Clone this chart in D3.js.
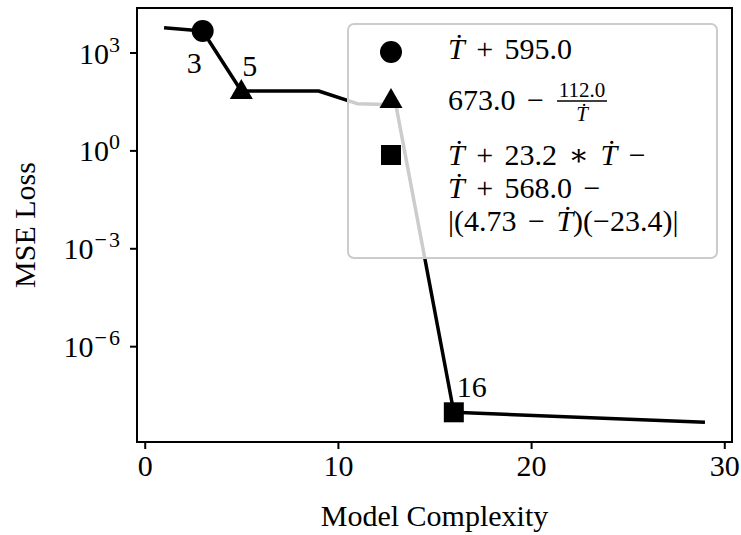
<!DOCTYPE html>
<html>
<head>
<meta charset="utf-8">
<script src="https://cdn.jsdelivr.net/npm/d3@7"></script>
<style>
  body { margin: 0; background: #fff; }
  text { font-family: "Liberation Serif", "DejaVu Serif", serif; fill: #000; }
</style>
</head>
<body>
<div id="chart"></div>
<script>
// pareto front: complexity vs loss
const complexity = [1, 3, 5, 9, 11, 13, 16, 29];
const loss = [5750, 4550, 66, 66, 27, 25, 9.4e-9, 4.65e-9];

// highlighted equations
const markedComplexity = [3, 5, 16];
const markedShapes = ["circle", "triangle", "square"];
const xTicks = [0, 10, 20, 30];
const yTickExponents = [3, 0, -3, -6];

const W = 741, H = 535;
const margin = {top: 8, right: 9, bottom: 93, left: 137};
const width = W - margin.left - margin.right;
const height = H - margin.top - margin.bottom;

const svg = d3.select("#chart").append("svg")
  .attr("width", W)
  .attr("height", H);

const g = svg.append("g")
  .attr("transform", "translate(" + margin.left + "," + margin.top + ")");

// 5% padding like matplotlib
const xExt = d3.extent(complexity);
const xPad = (xExt[1] - xExt[0]) * 0.05;
const x = d3.scaleLinear()
  .domain([xExt[0] - xPad, xExt[1] + xPad])
  .range([0, width]);

const lExt = d3.extent(loss).map(Math.log10);
const lPad = (lExt[1] - lExt[0]) * 0.05;
const y = d3.scaleLog()
  .domain([Math.pow(10, lExt[0] - lPad), Math.pow(10, lExt[1] + lPad)])
  .range([height, 0]);

// axes
const xAxis = g.append("g")
  .attr("transform", "translate(0," + height + ")")
  .call(d3.axisBottom(x).tickValues(xTicks).tickSize(7).tickPadding(6).tickFormat(d3.format("d")));
xAxis.select(".domain").remove();
xAxis.selectAll(".tick line").attr("stroke-width", 2);
xAxis.selectAll(".tick text").attr("font-size", 30).style("font-family", "Liberation Serif");

const yAxis = g.append("g")
  .call(d3.axisLeft(y).tickValues(yTickExponents.map(e => Math.pow(10, e))).tickSize(7).tickPadding(10).tickFormat(""));
yAxis.select(".domain").remove();
yAxis.selectAll(".tick line").attr("stroke-width", 2);
yAxis.selectAll(".tick text").each(function(d) {
  const t = d3.select(this)
    .attr("font-size", 30)
    .attr("dy", "0.35em")
    .style("font-family", "Liberation Serif");
  const e = Math.round(Math.log10(d));
  t.append("tspan").text("10");
  if (e < 0) {
    t.append("tspan").attr("font-size", 22).attr("dy", -12).attr("dx", 1).text("\u2212");
    t.append("tspan").attr("font-size", 22).attr("dx", 2).text(String(-e));
  } else {
    t.append("tspan").attr("font-size", 22).attr("dy", -12).text(String(e));
  }
});

// frame
g.append("rect")
  .attr("width", width)
  .attr("height", height)
  .attr("fill", "none")
  .attr("stroke", "#000")
  .attr("stroke-width", 2);

// the line
const pts = complexity.map((c, i) => [c, loss[i]]);
g.append("path")
  .datum(pts)
  .attr("fill", "none")
  .attr("stroke", "#000")
  .attr("stroke-width", 3.5)
  .attr("stroke-linejoin", "round")
  .attr("d", d3.line().x(d => x(d[0])).y(d => y(d[1])));

function markerPath(shape) {
  if (shape === "circle") return d3.symbol(d3.symbolCircle, 380)();
  if (shape === "triangle") return "M0,-12L11.5,8L-11.5,8Z";
  return "M-10,-10H10V10H-10Z";
}

markedComplexity.forEach((c, i) => {
  const v = loss[complexity.indexOf(c)];
  g.append("path")
    .attr("d", markerPath(markedShapes[i]))
    .attr("transform", "translate(" + x(c) + "," + y(v) + ")")
    .attr("fill", "#000");
});

// point labels
const labelOffsets = [[-16, 42], [1, -15], [3, -15]];
markedComplexity.forEach((c, i) => {
  const v = loss[complexity.indexOf(c)];
  g.append("text")
    .attr("x", x(c) + labelOffsets[i][0])
    .attr("y", y(v) + labelOffsets[i][1])
    .attr("font-size", 30)
    .text(String(c));
});

// legend
const lg = svg.append("g").attr("transform", "translate(348,24)");
lg.append("rect")
  .attr("width", 369)
  .attr("height", 234)
  .attr("rx", 6)
  .attr("fill", "#fff")
  .attr("fill-opacity", 0.8)
  .attr("stroke", "#ccc")
  .attr("stroke-width", 2);

const legendY = [28, 76, 131];
markedShapes.forEach((s, i) => {
  lg.append("path")
    .attr("d", markerPath(s))
    .attr("transform", "translate(43," + legendY[i] + ")")
    .attr("fill", "#000");
});

const T = "\u1E6A";
function mathText(sel, parts) {
  sel.attr("word-spacing", 4);
  parts.forEach(p => {
    const ts = sel.append("tspan").text(p[0]);
    if (p[1]) ts.attr("font-style", "italic");
  });
}

const t1 = lg.append("text").attr("x", 100).attr("y", 35).attr("font-size", 30);
mathText(t1, [[T, true], [" + 595.0"]]);

const t2 = lg.append("text").attr("x", 100).attr("y", 86).attr("font-size", 30);
mathText(t2, [["673.0 \u2212"]]);
lg.append("text").attr("x", 234).attr("y", 73).attr("font-size", 21)
  .attr("text-anchor", "middle").text("112.0");
lg.append("line").attr("x1", 209).attr("x2", 259).attr("y1", 77).attr("y2", 77)
  .attr("stroke", "#000").attr("stroke-width", 1.5);
lg.append("text").attr("x", 234).attr("y", 97).attr("font-size", 21)
  .attr("text-anchor", "middle").attr("font-style", "italic").text(T);

const t3 = lg.append("text").attr("x", 100).attr("y", 141).attr("font-size", 30);
mathText(t3, [[T, true], [" + 23.2 \u2217 "], [T, true], [" \u2212"]]);
const t4 = lg.append("text").attr("x", 100).attr("y", 174).attr("font-size", 30);
mathText(t4, [[T, true], [" + 568.0 \u2212"]]);
const t5 = lg.append("text").attr("x", 100).attr("y", 207).attr("font-size", 30);
mathText(t5, [["|(4.73 \u2212 "], [T, true], [")(\u221223.4)|"]]);

// axis titles
svg.append("text")
  .attr("x", margin.left + width / 2)
  .attr("y", 526)
  .attr("text-anchor", "middle")
  .attr("font-size", 30)
  .text("Model Complexity");

svg.append("text")
  .attr("transform", "translate(35," + (margin.top + height / 2) + ") rotate(-90)")
  .attr("text-anchor", "middle")
  .attr("font-size", 30)
  .text("MSE Loss");
</script>
</body>
</html>
